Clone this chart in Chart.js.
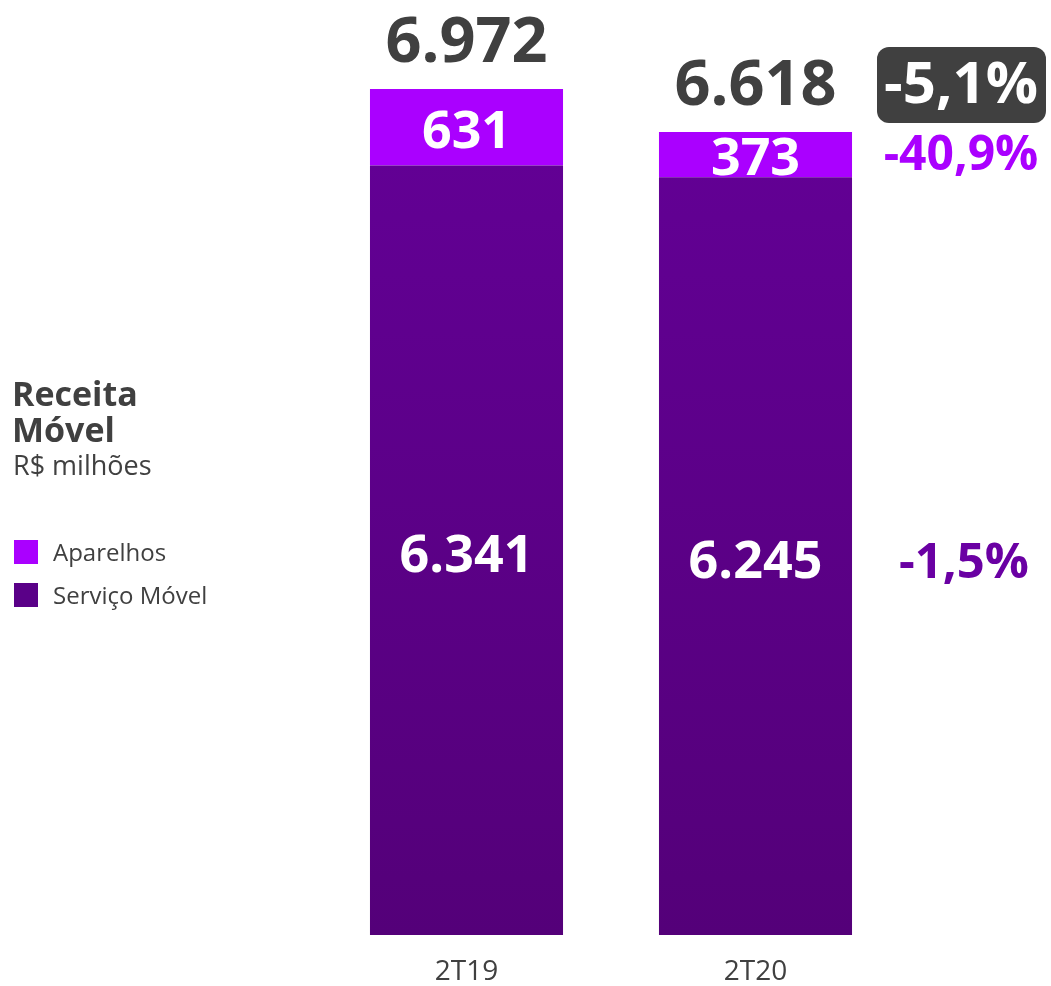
<!DOCTYPE html>
<html>
<head>
<meta charset="utf-8">
<script src="https://cdn.jsdelivr.net/npm/chart.js@4.4.0/dist/chart.umd.min.js"></script>
<style>
    html, body { margin: 0; padding: 0; background: #fff; }
    #wrap { width: 1051px; height: 986px; position: relative; }
</style>
</head>
<body>
<div id="wrap"><canvas id="receitaChart"></canvas></div>
<script>
// chart data
const categories = ['2T19', '2T20'];
const aparelhos = [631, 373];
const servicoMovel = [6341, 6245];
const seriesNames = ['Aparelhos', 'Serviço Móvel'];
const varTotal = '-5,1%';
const varAparelhos = '-40,9%';
const varServico = '-1,5%';

const FONT = '"Open Sans", "Noto Sans", sans-serif';
const GREY = '#404040';
const LIGHT = '#aa00ff';
const DARK = '#5a0088';

const fmt = v => v.toLocaleString('pt-BR');

// gradient for the service bars
function serviceFill(context) {
    const chart = context.chart;
    const area = chart.chartArea;
    if (!area) return DARK;
    const g = chart.ctx.createLinearGradient(0, area.top + 160, 0, area.bottom);
    g.addColorStop(0, '#620094');
    g.addColorStop(1, '#540079');
    return g;
}

const labelPlugin = {
    id: 'labelPlugin',
    afterDatasetsDraw(chart) {
        const ctx = chart.ctx;
        const area = chart.chartArea;
        const servMeta = chart.getDatasetMeta(0);
        const apMeta = chart.getDatasetMeta(1);
        ctx.save();
        ctx.textAlign = 'center';
        ctx.textBaseline = 'middle';

        // values inside the bars
        ctx.fillStyle = '#ffffff';
        ctx.font = 'bold 52px ' + FONT;
        servMeta.data.forEach((bar, i) => {
            ctx.fillText(fmt(servicoMovel[i]), bar.x, (bar.y + bar.base) / 2 + 7);
        });
        apMeta.data.forEach((bar, i) => {
            ctx.fillText(fmt(aparelhos[i]), bar.x, (bar.y + bar.base) / 2 + 6);
        });

        // totals above
        ctx.fillStyle = GREY;
        ctx.font = 'bold 63px ' + FONT;
        apMeta.data.forEach((bar, i) => {
            ctx.fillText(fmt(aparelhos[i] + servicoMovel[i]), bar.x, bar.y - 45);
        });

        // variations on the right
        const last = categories.length - 1;
        const vx = area.right + 61;
        const topBar = apMeta.data[last];
        const boxY = topBar.y - 47;
        ctx.fillStyle = GREY;
        ctx.beginPath();
        ctx.roundRect(vx - 84, boxY - 38, 169, 76, 12);
        ctx.fill();
        ctx.fillStyle = '#ffffff';
        ctx.font = 'bold 58px ' + FONT;
        ctx.fillText(varTotal, vx, boxY + 2);

        ctx.fillStyle = LIGHT;
        ctx.font = 'bold 48px ' + FONT;
        ctx.fillText(varAparelhos, vx, (topBar.y + topBar.base) / 2 + 2);

        const sBar = servMeta.data[last];
        ctx.fillStyle = '#6a00a3';
        ctx.font = 'bold 49px ' + FONT;
        ctx.fillText(varServico, vx + 3, (sBar.y + sBar.base) / 2 + 8);

        // title and legend on the left
        ctx.textAlign = 'left';
        ctx.fillStyle = GREY;
        ctx.font = 'bold 34px ' + FONT;
        ctx.fillText('Receita', 12, 396);
        ctx.fillText('Móvel', 12, 432);
        ctx.font = '27px ' + FONT;
        ctx.fillText('R$ milhões', 13, 467);

        const legendColors = [LIGHT, DARK];
        seriesNames.forEach((name, i) => {
            const y = 552 + i * 43;
            ctx.fillStyle = legendColors[i];
            ctx.fillRect(14, y - 12, 24, 24);
            ctx.fillStyle = GREY;
            ctx.font = '24px ' + FONT;
            ctx.fillText(name, 53, y + 2);
        });
        ctx.restore();
    }
};

const chart = new Chart(document.getElementById('receitaChart'), {
    type: 'bar',
    data: {
        labels: categories,
        datasets: [{
            label: seriesNames[1],
            data: servicoMovel,
            backgroundColor: serviceFill,
            borderWidth: 0
        }, {
            label: seriesNames[0],
            data: aparelhos,
            backgroundColor: LIGHT,
            borderWidth: 0
        }]
    },
    options: {
        responsive: true,
        maintainAspectRatio: false,
        animation: false,
        layout: {
            padding: { left: 322, right: 151, top: 0, bottom: 0 }
        },
        categoryPercentage: 1,
        barPercentage: 0.668,
        plugins: {
            legend: { display: false },
            tooltip: { enabled: false }
        },
        scales: {
            x: {
                stacked: true,
                grid: { display: false },
                border: { display: false },
                ticks: {
                    color: GREY,
                    padding: 12,
                    font: { family: FONT, size: 28 }
                },
                afterFit(scale) {
                    scale.height = 51;
                }
            },
            y: {
                stacked: true,
                display: false,
                min: 0,
                max: 7705
            }
        }
    },
    plugins: [labelPlugin]
});
</script>
</body>
</html>
